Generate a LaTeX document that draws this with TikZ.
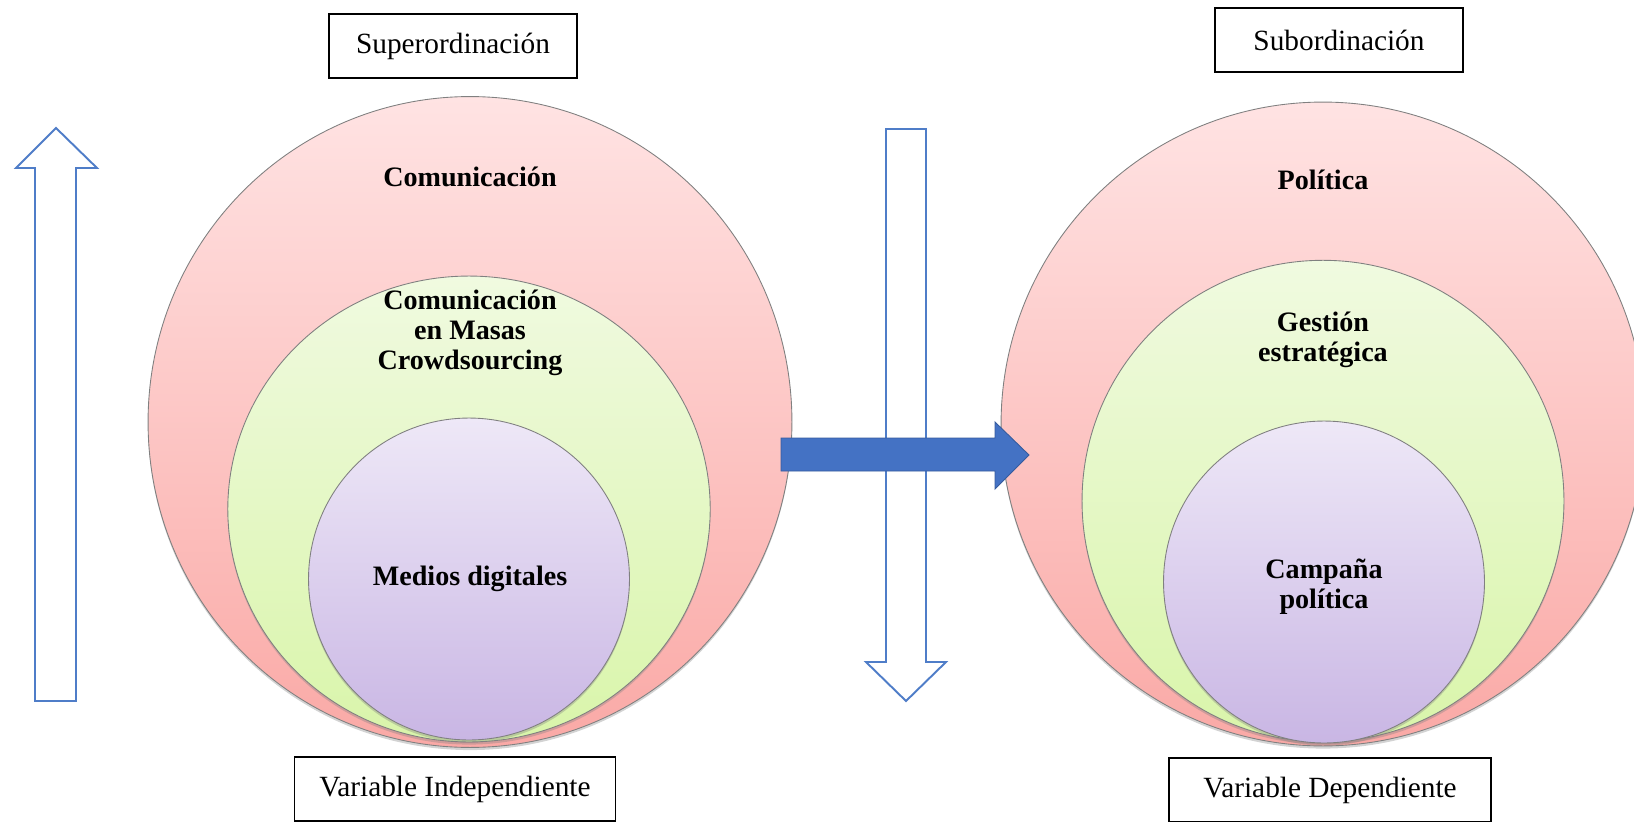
\documentclass[tikz,border=0pt]{standalone}
\usepackage{fontspec}
\setmainfont{Liberation Serif}
\usetikzlibrary{shapes,positioning,shadows}
\definecolor{pinkT}{HTML}{FFE3E3}
\definecolor{pinkB}{HTML}{FAA9A6}
\definecolor{greenT}{HTML}{F0FAE0}
\definecolor{greenB}{HTML}{D9F5AA}
\definecolor{lilaT}{HTML}{EEE8F7}
\definecolor{lilaB}{HTML}{C9B6E4}
\definecolor{blueline}{HTML}{4F7DC8}
\definecolor{bluefill}{HTML}{4472C4}

\begin{document}
\begin{tikzpicture}[x=0.02cm, y=-0.02cm]
        \tikzset{
            ring/.style={ellipse, draw=gray, line width=0.5pt, inner sep=0pt,
                drop shadow={shadow xshift=0pt, shadow yshift=-1.5pt, opacity=0.35}},
            outer/.style={ring, top color=pinkT, bottom color=pinkB},
            middle/.style={ring, top color=greenT, bottom color=greenB},
            inner/.style={ring, top color=lilaT, bottom color=lilaB},
            ringtext/.style={font=\bfseries\fontsize{16}{17.2}\selectfont, align=center},
            labelbox/.style={draw=black, line width=0.8pt, minimum height=1.28cm,
                font=\fontsize{16.7}{20}\selectfont},
            hollow/.style={draw=blueline, line width=1.1pt, line join=miter},
        }
        \useasboundingbox (0, 0) rectangle (1634, 822);
        \clip (0, 0) rectangle (1634, 822);

        % independiente
        \begin{scope}
            \node[outer, minimum width=12.88cm, minimum height=13.02cm] (comOut) at (470, 422) {};
            \node[middle, minimum width=9.65cm, minimum height=9.32cm] (comMid) at (469, 509) {};
            \node[inner, minimum width=6.42cm, minimum height=6.44cm] (comIn) at (469, 579) {};
            \node[ringtext] (com) at (470, 177) {Comunicación};
            \node[ringtext] (masas) at (470, 333) {Comunicación\\en Masas\\Crowdsourcing};
            \node[ringtext] (medios) at (470, 579) {Medios digitales};
        \end{scope}

        % dependiente
        \begin{scope}
            \node[outer, minimum width=12.88cm, minimum height=12.88cm] (polOut) at (1323, 424) {};
            \node[middle, minimum width=9.64cm, minimum height=9.63cm] (polMid) at (1323, 501) {};
            \node[inner, minimum width=6.42cm, minimum height=6.44cm] (polIn) at (1324, 582) {};
            \node[ringtext] (pol) at (1323, 180) {Política};
            \node[ringtext] (gest) at (1323, 340) {Gestión\\estratégica};
            \node[ringtext] (camp) at (1324, 587) {Campaña\\política};
        \end{scope}

        % flechas
        \draw[hollow] (35, 701) -- (35, 168) -- (16, 168) -- (56, 128)
            -- (97, 168) -- (76, 168) -- (76, 701) -- cycle;
        \draw[hollow] (886, 129) -- (926, 129) -- (926, 662) -- (946, 662)
            -- (906, 701) -- (866, 662) -- (886, 662) -- cycle;
        \draw[fill=bluefill, draw=bluefill!80!black, line width=0.5pt]
            (781, 438) -- (995, 438) -- (995, 422) -- (1029, 455)
            -- (995, 489) -- (995, 471) -- (781, 471) -- cycle;

        % cajas
        \node[labelbox, minimum width=4.96cm] (super) at (453, 46) {Superordinación};
        \node[labelbox, minimum width=4.96cm] (sub) at (1339, 40) {Subordinación};
        \node[labelbox, minimum width=6.42cm] (vi) at (455, 789) {Variable Independiente};
        \node[labelbox, minimum width=6.44cm] (vd) at (1330, 790) {Variable Dependiente};

        \end{tikzpicture}
\end{document}
